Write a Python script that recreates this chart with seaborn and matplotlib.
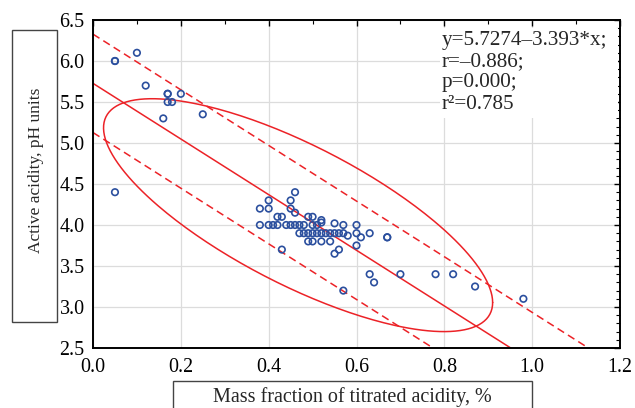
import numpy as np
import pandas as pd
import matplotlib
matplotlib.use("Agg")
import matplotlib.pyplot as plt
from matplotlib.patches import Rectangle
from matplotlib.ticker import MultipleLocator
import seaborn as sns

# values
titr_acid = [0.05, 0.05, 0.10, 0.12, 0.17, 0.17, 0.20, 0.17, 0.18, 0.16, 0.25, 0.05,
             0.46, 0.40, 0.45, 0.38, 0.40, 0.45, 0.46, 0.42, 0.43, 0.49, 0.50, 0.52, 0.52, 0.55,
             0.38, 0.40, 0.41, 0.42, 0.44, 0.45, 0.46, 0.47, 0.48, 0.50, 0.51, 0.57, 0.60,
             0.47, 0.48, 0.49, 0.50, 0.51, 0.52, 0.53, 0.54, 0.55, 0.56, 0.57, 0.60, 0.63,
             0.58, 0.61, 0.67, 0.67, 0.49, 0.50, 0.52, 0.54, 0.60, 0.43, 0.56, 0.55,
             0.63, 0.64, 0.57, 0.70, 0.78, 0.82, 0.87, 0.98]
ph = [6.0, 6.0, 6.1, 5.7, 5.6, 5.6, 5.6, 5.5, 5.5, 5.3, 5.35, 4.4,
      4.4, 4.3, 4.3, 4.2, 4.2, 4.2, 4.15, 4.1, 4.1, 4.1, 4.1, 4.06, 4.03, 4.02,
      4.0, 4.0, 4.0, 4.0, 4.0, 4.0, 4.0, 4.0, 4.0, 4.0, 4.0, 4.0, 4.0,
      3.9, 3.9, 3.9, 3.9, 3.9, 3.9, 3.9, 3.9, 3.9, 3.9, 3.9, 3.9, 3.9,
      3.87, 3.85, 3.85, 3.85, 3.8, 3.8, 3.8, 3.8, 3.75, 3.7, 3.7, 3.65,
      3.4, 3.3, 3.2, 3.4, 3.4, 3.4, 3.25, 3.1]

# regression from the annotation, dashed band offset
intercept = 5.7274
slope = -3.393
band_half = 0.6

# ellipse
ell_center = (0.467, 4.12)
ell_half_x = 0.443
ell_half_y = 1.42
ell_r = -0.75

stats_lines = ["y=5.7274\u20133.393*x;", "r=\u20130.886;", "p=0.000;", "r\u00b2=0.785"]

df = pd.DataFrame({"x": titr_acid, "y": ph})

sns.set_theme(style="white")
plt.rcParams["font.family"] = ["Liberation Serif", "DejaVu Serif"]
plt.rcParams["xtick.direction"] = "in"
plt.rcParams["ytick.direction"] = "in"

red = "#ec2227"
blue = "#2b4f9e"
W, H = 635, 408

fig = plt.figure(figsize=(6.35, 4.08), dpi=100)
ax = fig.add_axes([93 / W, 1 - 348 / H, 527 / W, 328 / H])

# lines
xs = np.linspace(0, 1.2, 200)
yfit = intercept + slope * xs
ax.plot(xs, yfit, color=red, lw=1.1)
ax.plot(xs, yfit + band_half, color=red, lw=1.1, ls=(0, (5, 3)))
ax.plot(xs, yfit - band_half, color=red, lw=1.1, ls=(0, (5, 3)))

t = np.linspace(0, 2 * np.pi, 300)
ex = ell_center[0] + ell_half_x * np.cos(t)
ey = ell_center[1] + ell_half_y * (ell_r * np.cos(t) + np.sqrt(1 - ell_r ** 2) * np.sin(t))
ax.plot(ex, ey, color=red, lw=1.1)

sns.scatterplot(data=df, x="x", y="y", ax=ax, marker="o", s=22,
                fc="none", ec=blue, linewidth=1.2, zorder=5)

ax.set_xlim(0, 1.2)
ax.set_ylim(2.5, 6.5)
ax.xaxis.set_minor_locator(MultipleLocator(0.1))
ax.yaxis.set_minor_locator(MultipleLocator(0.1))
ax.set_xticks(np.arange(0, 1.21, 0.2))
ax.set_xticklabels([f"{v:.1f}" for v in np.arange(0, 1.21, 0.2)])
ax.set_yticks(np.arange(2.5, 6.51, 0.5))
ax.set_yticklabels([f"{v:.1f}" for v in np.arange(2.5, 6.51, 0.5)])
ax.tick_params(which="both", top=True, right=True, labelsize=14.4, colors="black")
ax.tick_params(axis="x", pad=7)
ax.tick_params(axis="y", pad=6)
ax.tick_params(which="major", length=4, width=1)
ax.tick_params(which="minor", length=3, width=0.8)
ax.grid(True, which="major", color="#dcdcdc", lw=0.9)
ax.set_axisbelow(True)
for sp in ax.spines.values():
    sp.set_color("black")
    sp.set_linewidth(1.4)
ax.set_xlabel("")
ax.set_ylabel("")

# stats block on a white patch that hides the grid
fig.patches.append(Rectangle((440 / W, 1 - 118 / H), 178 / W, 90 / H,
                             transform=fig.transFigure, facecolor="white",
                             edgecolor="none", zorder=3))
for i, line in enumerate(stats_lines):
    fig.text(442 / W, 1 - (40 + 21.5 * i) / H, line, ha="left", va="center",
             fontsize=15.2, zorder=4)

# boxed axis titles
fig.patches.append(Rectangle((12 / W, 1 - 322 / H), 45 / W, 292 / H,
                             transform=fig.transFigure, fill=False,
                             edgecolor="#444444", lw=1))
fig.text(36 / W, 1 - 170 / H, "Active acidity, pH units", rotation=90,
         ha="center", va="center", fontsize=12.5)
fig.patches.append(Rectangle((173 / W, -0.05), 359 / W, 0.05 + 27 / H,
                             transform=fig.transFigure, fill=False,
                             edgecolor="#444444", lw=1))
fig.text(352 / W, 1 - 397 / H, "Mass fraction of titrated acidity, %",
         ha="center", va="center", fontsize=14.5)

fig.savefig("out.png", dpi=100, facecolor="white")
